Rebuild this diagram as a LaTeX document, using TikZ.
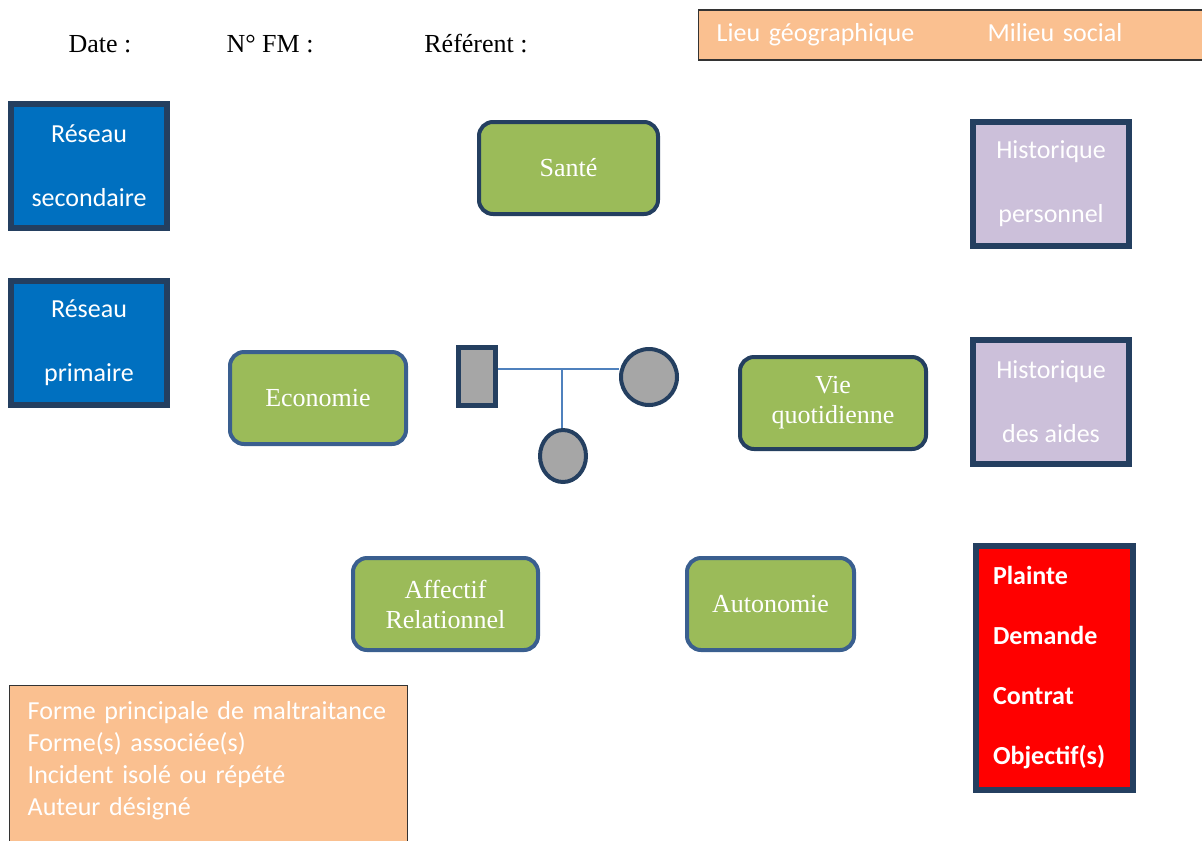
\documentclass[tikz,border=0pt]{standalone}
\usepackage{fontspec}
\setmainfont{Liberation Serif}
\newfontfamily\calibri{Carlito}
\usepackage{xcolor}
\usepackage{tikz}
\usetikzlibrary{shapes.geometric}
\definecolor{navy}{HTML}{243F60}
\definecolor{steel}{HTML}{3A5F8F}
\definecolor{olive}{HTML}{9BBB59}
\definecolor{netblue}{HTML}{0070C0}
\definecolor{lilac}{HTML}{CCC0DA}
\definecolor{peach}{HTML}{FAC090}
\definecolor{tieblue}{HTML}{4F81BD}
\tikzset{
  netbox/.style={draw=navy, line width=4.5pt, fill=netblue, text=white,
    align=center, minimum width=117pt, minimum height=93pt, inner sep=0pt,
    font=\calibri\fontsize{19.5}{48}\selectfont},
  histbox/.style={netbox, fill=lilac},
  theme/.style={draw=navy, line width=3pt, fill=olive, text=white,
    rounded corners=10.5pt, align=center, minimum height=69pt, inner sep=0pt,
    font=\fontsize{19.5}{22.5}\selectfont},
  themelight/.style={theme, draw=steel},
  infobox/.style={draw=black!80, line width=1.1pt, fill=peach, text=white,
    align=left, inner ysep=12pt, inner xsep=13.5pt,
    font=\calibri\fontsize{19.5}{24}\selectfont},
  person/.style={draw=navy, line width=3.5pt, fill=black!35, inner sep=0pt},
  tie/.style={draw=tieblue, line width=1.1pt}
}

\begin{document}
\begin{tikzpicture}[x=0.75pt, y=-0.75pt]
  \clip (0,0) rectangle (1202,840);
  \useasboundingbox (0,0) rectangle (1202,840);
  % en-tete
  \node[font=\fontsize{19.5}{23}\selectfont] (date) at (100,44) {Date :};
  \node[font=\fontsize{19.5}{23}\selectfont] (nfm) at (270,44) {N° FM :};
  \node[font=\fontsize{19.5}{23}\selectfont] (ref) at (476,44) {Référent :};
  \node[infobox, anchor=west, text width=363pt, minimum height=37.5pt,
    inner ysep=0pt] (lieu) at (698,35) {Lieu géographique\hspace{55pt}Milieu social};
  % reseaux et historiques
  \node[netbox] (second) at (89,166) {Réseau\\secondaire};
  \node[netbox] (prim) at (89,343) {Réseau\\primaire};
  \node[histbox] (histperso) at (1051,183.5) {Historique\\personnel};
  \node[histbox] (histaides) at (1051,401.5) {Historique\\des aides};
  \node[netbox, fill=red, minimum width=117.75pt, minimum height=183pt,
    text width=92.25pt, align=left, inner xsep=12.75pt,
    font=\calibri\bfseries\fontsize{19.5}{45}\selectfont] (plainte) at (1054.5,668)
    {Plainte\\Demande\\Contrat\\Objectif(s)};
  % domaines
  \node[theme, minimum width=134.25pt] (sante) at (568.5,168) {Santé};
  \node[themelight, minimum width=132pt] (eco) at (318,398) {Economie};
  \node[theme, minimum width=139.5pt] (vie) at (833,403) {Vie\\quotidienne};
  \node[themelight, minimum width=138.75pt] (affectif) at (445.5,604) {Affectif\\Relationnel};
  \node[themelight, minimum width=125.25pt] (auto) at (770.5,604) {Autonomie};
  % famille
  \node[person, minimum width=27.75pt, minimum height=43.5pt] (man) at (477,376.5) {};
  \node[person, ellipse, line width=3pt, minimum width=42pt, minimum height=42pt] (woman) at (649,377) {};
  \node[person, ellipse, line width=3pt, minimum width=34.5pt, minimum height=39pt] (child) at (563,456) {};
  \coordinate (union) at (562,369);
  \draw[tie] (union -| man.east) -- (union -| woman.west);
  \draw[tie] (union) -- (union |- child.north);
  % maltraitance
  \node[infobox, anchor=north west, text width=271.5pt] (forme) at (9,685)
    {Forme principale de maltraitance\\Forme(s) associée(s)\\Incident isolé ou répété\\Auteur désigné\rule[-24pt]{0pt}{0pt}};
\end{tikzpicture}
\end{document}
